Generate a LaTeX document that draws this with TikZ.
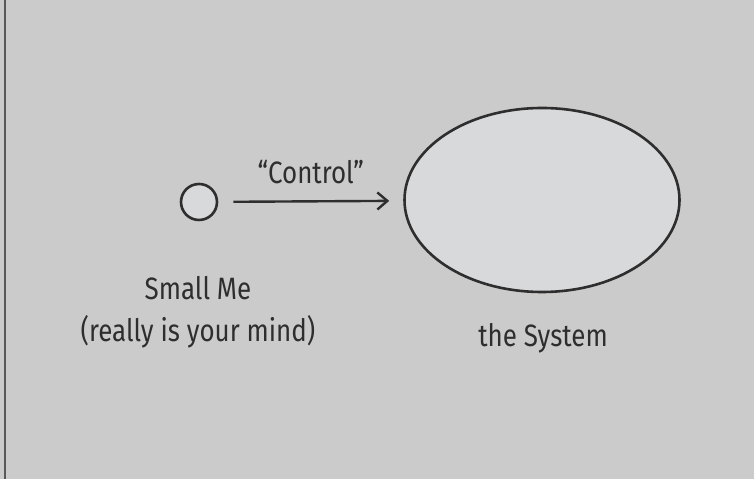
\documentclass[tikz,border=0pt]{standalone}
\usepackage{fontspec}
\setmainfont{Fira Sans}[FakeStretch=0.84]
\usepackage{tikz}
\usetikzlibrary{positioning,arrows.meta,shapes.geometric}
\definecolor{paper}{HTML}{CBCBCB}
\definecolor{inside}{HTML}{D8D9DB}
\definecolor{ink}{HTML}{2E2E2E}

\begin{document}
\begin{tikzpicture}[x=1bp, y=1bp, font=\fontsize{31}{34}\selectfont, text=ink,
  blob/.style={draw=ink, line width=2.6bp, fill=inside, inner sep=0pt},
  caption/.style={anchor=base, inner sep=0pt}]
  \useasboundingbox (0,0) rectangle (754,479);
  \fill[paper] (0,0) rectangle (754,479);
  \draw[ink!80, line width=2bp] (4.5,0) -- (4.5,479);
  \node[blob, circle, minimum size=36bp] (me) at (199,277) {};
  \node[blob, ellipse, minimum width=275bp, minimum height=184bp] (system) at (542,279) {};
  \draw[ink, line width=2.4bp, -{Straight Barb[length=10bp, width=17bp, line width=2.4bp]},
    shorten <=15bp, shorten >=14bp] (me) -- node[above=16bp, inner sep=0pt] (ctrl) {“Control”} (system);
  \node[caption] (small) at (198,179) {Small Me};
  \node[caption] (mind) at (198,137) {(really is your mind)};
  \node[caption] (label) at (543,132) {the System};
\end{tikzpicture}
\end{document}
